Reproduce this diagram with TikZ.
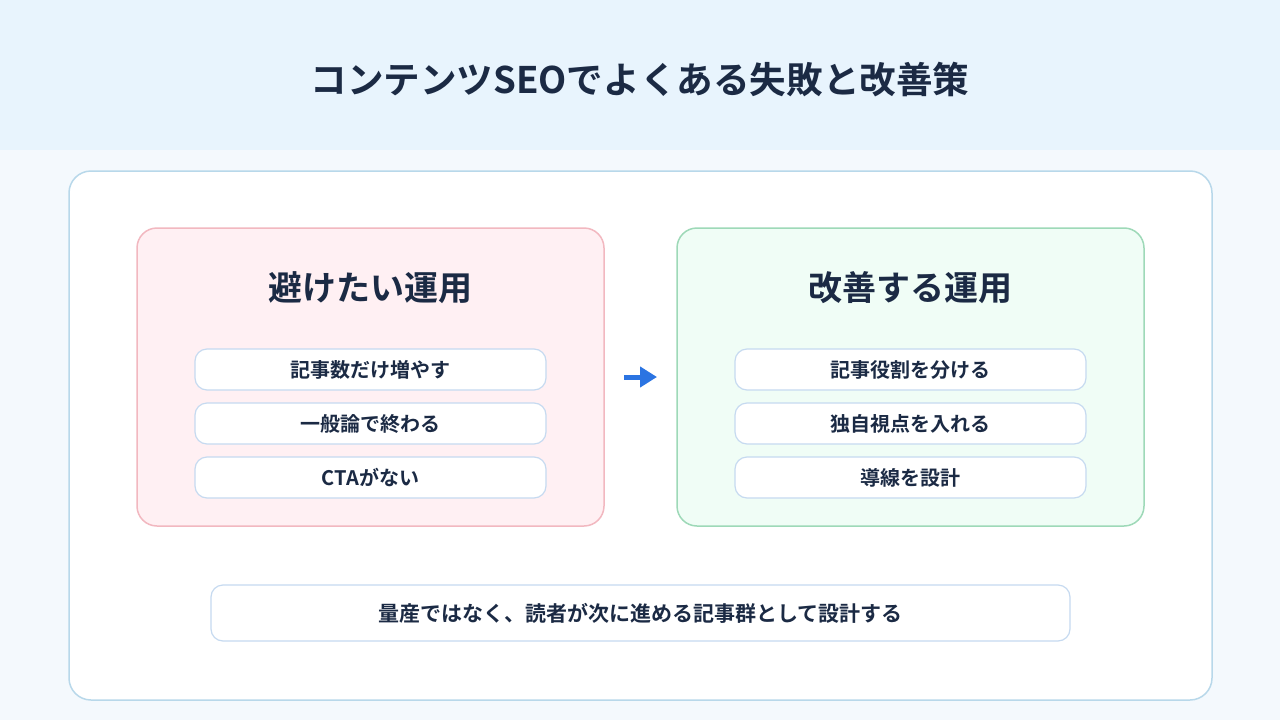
\documentclass[tikz,border=0pt]{standalone}
\usepackage{fontspec}
\setmainfont{Noto Sans CJK JP}[BoldFont={Noto Sans CJK JP Bold}]
\usetikzlibrary{arrows.meta}
\definecolor{hdr}{HTML}{E8F4FD}
\definecolor{pagebg}{HTML}{F4F9FD}
\definecolor{cardline}{HTML}{B8D8EA}
\definecolor{ink}{HTML}{1B2A44}
\definecolor{badfill}{HTML}{FFF0F3}
\definecolor{badline}{HTML}{F2B8C0}
\definecolor{goodfill}{HTML}{F0FDF6}
\definecolor{goodline}{HTML}{9ED9B8}
\definecolor{itemline}{HTML}{C6DAF0}
\definecolor{arrowblue}{HTML}{2B74E2}
\tikzset{
  panel/.style={rounded corners=20pt, line width=1.5pt, minimum width=467pt, minimum height=298pt, inner sep=0pt},
  itembox/.style={draw=itemline, fill=white, line width=1.2pt, rounded corners=12pt, minimum width=351pt, minimum height=41pt, inner sep=0pt, font=\bfseries\fontsize{20}{22}\selectfont, text=ink},
  paneltitle/.style={font=\bfseries\fontsize{34}{38}\selectfont, text=ink, inner sep=0pt},
}
\begin{document}
\begin{tikzpicture}[x=1pt,y=-1pt]
\fill[pagebg] (0,0) rectangle (1280,720);
\fill[hdr] (0,0) rectangle (1280,150);
\useasboundingbox (0,0) rectangle (1280,720);
\node[font=\bfseries\fontsize{36.6}{40}\selectfont, text=ink, inner sep=0pt] (title) at (640,80) {コンテンツSEOでよくある失敗と改善策};
\node[draw=cardline, fill=white, line width=1.5pt, rounded corners=22pt, minimum width=1143pt, minimum height=529pt, inner sep=0pt] (card) at (640.5,435.5) {};
\node[panel, draw=badline, fill=badfill] (bad) at (370.5,377) {};
\node[panel, draw=goodline, fill=goodfill] (good) at (910.5,377) {};
\node[paneltitle] (badtitle) at (370,288) {避けたい運用};
\node[paneltitle] (goodtitle) at (910,288) {改善する運用};
\node[itembox] (b1) at (370.5,369.5) {記事数だけ増やす};
\node[itembox] (b2) at (370.5,423.5) {一般論で終わる};
\node[itembox] (b3) at (370.5,477.5) {CTAがない};
\node[itembox] (g1) at (910.5,369.5) {記事役割を分ける};
\node[itembox] (g2) at (910.5,423.5) {独自視点を入れる};
\node[itembox] (g3) at (910.5,477.5) {導線を設計};
\coordinate (as) at (624,377);
\coordinate (ae) at (657,377);
\draw[arrowblue, line width=5pt, -{Triangle[length=17pt,width=20pt]}] (as) -- (ae);
\node[draw=itemline, fill=white, line width=1.2pt, rounded corners=12pt, minimum width=859pt, minimum height=56pt, inner sep=0pt, font=\bfseries\fontsize{21}{24}\selectfont, text=ink] (summary) at (640.5,613) {量産ではなく、読者が次に進める記事群として設計する};
\end{tikzpicture}
\end{document}
